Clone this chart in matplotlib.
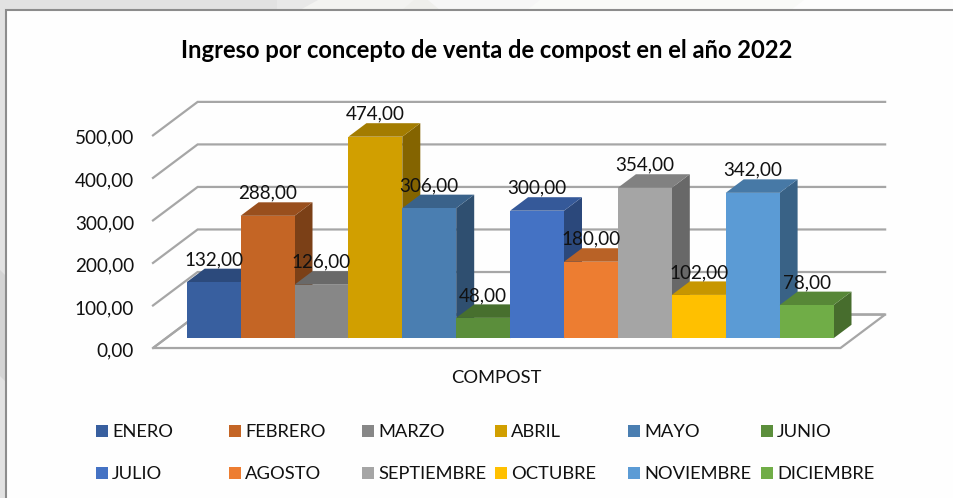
"""Ingreso por venta de compost 2022: 3D-looking clustered bars drawn on a flat axes."""
import matplotlib

matplotlib.use("Agg")
import matplotlib.pyplot as plt
from matplotlib.patches import Polygon, Rectangle

plt.rcParams["font.family"] = ["Lato", "DejaVu Sans"]

months = ["ENERO", "FEBRERO", "MARZO", "ABRIL", "MAYO", "JUNIO", "JULIO",
          "AGOSTO", "SEPTIEMBRE", "OCTUBRE", "NOVIEMBRE", "DICIEMBRE"]
values = [132, 288, 126, 474, 306, 48, 300, 180, 354, 102, 342, 78]
colors = ["#385F9F", "#C46525", "#878787", "#D19F00", "#4A7EB1", "#5B8E3B",
          "#4472C4", "#ED7D31", "#A5A5A5", "#FFC000", "#5B9BD5", "#70AD47"]
y_ticks = [0, 100, 200, 300, 400, 500]

W, H = 954, 498
X0, Y0 = 186.7, 338.3    # pixel position of x=0, value=0
BAR_PX, VAL_PX = 53.9, 0.4253
DX, DY = 18 / BAR_PX, 13.5 / VAL_PX    # one unit of depth, in data units
GRID = "#a6a6a6"
TEXT = "#111111"


def fmt(v):
    return f"{v:.2f}".replace(".", ",")


def proj(x, v, d=0.0):
    return (x + d * DX, v + d * DY)


def shade(color, k):
    return tuple(c * k for c in matplotlib.colors.to_rgb(color))


def page_poly(pts, color):
    fig.add_artist(Polygon([(px / W, 1 - py / H) for px, py in pts], closed=True,
                           transform=fig.transFigure, fc=color, ec="none", zorder=-2))


fig = plt.figure(figsize=(W / 100, H / 100), dpi=100, facecolor="#e2e2e2")

# page background behind the chart
page_poly([(277, 0), (954, 0), (954, 10), (277, 10)], "#e8e8e8")
page_poly([(318, 0), (954, 0), (954, 10), (300, 10)], "#f3f3f1")
page_poly([(402, 10), (414, 0), (428, 0), (440, 10)], "#efefec")
page_poly([(440, 10), (428, 0), (954, 0), (954, 10)], "#f6f6f6")
page_poly([(527, 10), (540, 0), (954, 0), (954, 10)], "#f9faf8")
page_poly([(791, 10), (804, 0), (954, 0), (954, 10)], "#fdfdfd")
page_poly([(0, 270), (6, 276), (6, 382), (0, 376)], "#d4d4d4")
fig.add_artist(Rectangle((6 / W, -0.01), 1, 1.01 - 10 / H, transform=fig.transFigure,
                         fc="#fefefe", ec="#8c8c8c", lw=1.5, zorder=-1))

ax = fig.add_axes([0, 0, 1, 1])
ax.set_xlim(-X0 / BAR_PX, (W - X0) / BAR_PX)
ax.set_ylim(-(H - Y0) / VAL_PX, Y0 / VAL_PX)
ax.axis("off")

n = len(values)
x_left, x_right = -0.385, n + 0.37
d_front, d_back = -0.72, 1.76

# floor
floor = [proj(x_left, 0, d_front), proj(x_right, 0, d_front),
         proj(x_right, 0, d_back), proj(x_left, 0, d_back)]
ax.add_patch(Polygon(floor, closed=True, fc="white", ec=GRID, lw=1.6, zorder=1))

# walls: side slants and back gridlines
for t in y_ticks:
    back_l, back_r = proj(x_left, t, d_back), proj(x_right, t, d_back)
    front_l = proj(x_left, t, d_front)
    ax.plot([front_l[0], back_l[0], back_r[0]], [front_l[1], back_l[1], back_r[1]],
            color=GRID, lw=1.6, zorder=1, solid_joinstyle="miter")
    ax.text(front_l[0] - 19 / BAR_PX, front_l[1] - 3 / VAL_PX, fmt(t), ha="right", va="center",
            fontsize=13.6, color=TEXT, zorder=5)

# bars, left to right so later ones cover the earlier ones
for i, (v, c) in enumerate(zip(values, colors)):
    front = [proj(i, 0), proj(i + 1, 0), proj(i + 1, v), proj(i, v)]
    top = [proj(i, v), proj(i + 1, v), proj(i + 1, v, 1), proj(i, v, 1)]
    side = [proj(i + 1, 0), proj(i + 1, 0, 1), proj(i + 1, v, 1), proj(i + 1, v)]
    ax.add_patch(Polygon(side, closed=True, fc=shade(c, 0.63), ec="none", zorder=2))
    ax.add_patch(Polygon(top, closed=True, fc=shade(c, 0.78), ec="none", zorder=2))
    ax.add_patch(Polygon(front, closed=True, fc=c, ec="none", zorder=2))

for i, v in enumerate(values):
    ax.text(i + 0.5, v + 22.5 / VAL_PX, fmt(v), ha="center", va="center",
            fontsize=13.6, color=TEXT, zorder=6)

ax.text((496 - X0) / BAR_PX, -(378 - Y0) / VAL_PX, "COMPOST", ha="center", va="center",
        fontsize=13.2, color=TEXT)

fig.text(486.5 / W, 1 - 51 / H, "Ingreso por concepto de venta de compost en el año 2022",
         ha="center", va="center", fontsize=17.1, fontweight="bold", color="#000000")

# legend, two rows of six
for i, (m, c) in enumerate(zip(months, colors)):
    col, row = i % 6, i // 6
    lx, ly = 96 + 133 * col, 431 + 42 * row
    fig.add_artist(Rectangle((lx / W, 1 - (ly + 6) / H), 12 / W, 12 / H,
                             transform=fig.transFigure, fc=c, ec="none"))
    fig.text((lx + 16) / W, 1 - (ly + 1) / H, m, ha="left", va="center",
             fontsize=13.2, color=TEXT)

fig.savefig("out.png", dpi=100, facecolor=fig.get_facecolor())
